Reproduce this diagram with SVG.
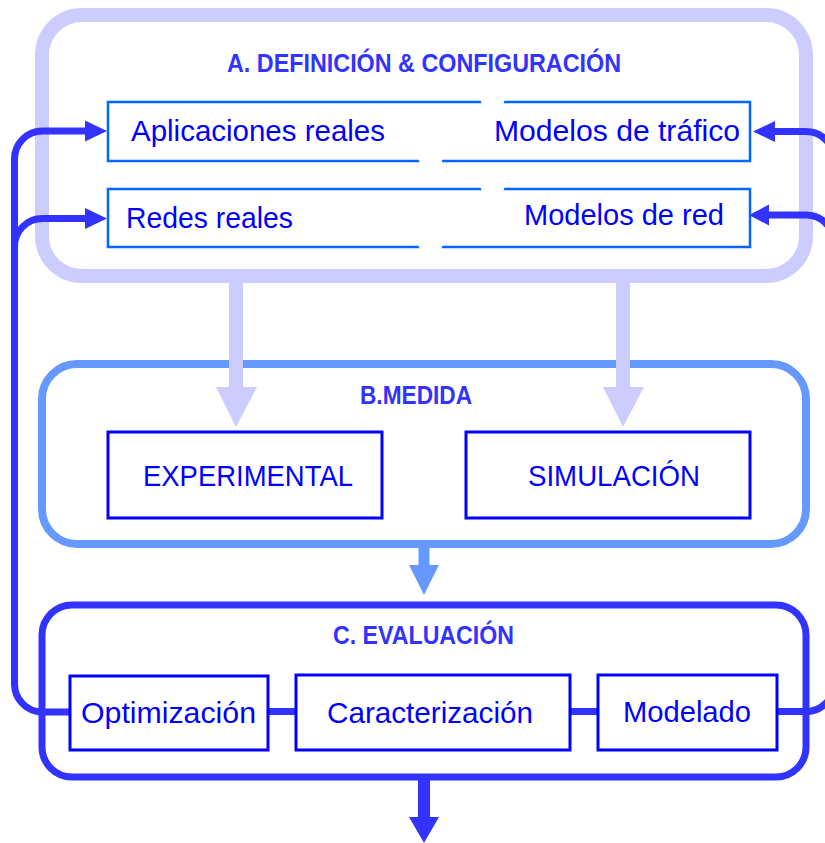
<svg xmlns="http://www.w3.org/2000/svg" width="825" height="843" viewBox="0 0 825 843">
<defs>
<style>
.lav{fill:none;stroke:#CCCCFF;stroke-width:14}
.lavf{fill:#CCCCFF}
.bstroke{fill:none;stroke:#6699FF;stroke-width:8}
.bf{fill:#6699FF}
.cstroke{fill:none;stroke:#3333FF;stroke-width:7}
.cf{fill:#3333FF}
.boxA{fill:#FFFFFF;stroke:#0066FF;stroke-width:2.5}
.box{fill:#FFFFFF;stroke:#0000FF;stroke-width:3}
.loop{fill:none;stroke:#3333FF;stroke-width:7}
.head{font-family:"Liberation Sans",Arial,sans-serif;font-weight:bold;font-size:25px;fill:#3333FF}
.lbl{font-family:"Liberation Sans",Arial,sans-serif;font-size:30px;fill:#0000FF}
</style>
</defs>
<rect width="825" height="843" fill="#FFFFFF"/>

<!-- Group containers -->
<g id="groupA">
<rect class="lav" x="42" y="15" width="764" height="261" rx="40" ry="40"/>
<text class="head" x="227" y="72" textLength="394" lengthAdjust="spacingAndGlyphs">A. DEFINICIÓN &amp; CONFIGURACIÓN</text>
</g>
<g id="groupB">
<rect class="bstroke" x="42" y="364" width="764" height="180" rx="35" ry="35"/>
<text class="head" x="360" y="404" textLength="112" lengthAdjust="spacingAndGlyphs">B.MEDIDA</text>
</g>
<g id="groupC">
<rect class="cstroke" x="42" y="605" width="764" height="172" rx="30" ry="30"/>
<text class="head" x="333" y="644" textLength="181" lengthAdjust="spacingAndGlyphs">C. EVALUACIÓN</text>
</g>

<!-- Connectors -->
<g id="connectors">
<!-- A to B arrows -->
<rect class="lavf" x="229" y="276" width="14" height="112"/>
<polygon class="lavf" points="216,387 257,387 236,427"/>
<rect class="lavf" x="616" y="276" width="14" height="112"/>
<polygon class="lavf" points="603,387 644,387 623,427"/>
<!-- B to C arrow -->
<rect class="bf" x="418.5" y="546" width="11" height="20"/>
<polygon class="bf" points="409,565 439,565 424,595"/>
<!-- C output arrow -->
<rect class="cf" x="418" y="779" width="12" height="39"/>
<polygon class="cf" points="409,817 439,817 424,843"/>
<!-- left feedback loop -->
<path class="loop" d="M70,712 H42 A28,28 0 0 1 14.5,684 V159 A28,28 0 0 1 42.5,131 H88"/>
<path class="loop" d="M14.5,247 A28,28 0 0 1 42.5,218.5 H88"/>
<polygon class="cf" points="107,131 85,120.5 85,141.5"/>
<polygon class="cf" points="107,218.5 85,208 85,229"/>
<!-- right feedback loop -->
<path class="loop" d="M777,711.5 H806 A28,28 0 0 0 834,683.5 V159.5 A28,28 0 0 0 806,131.5 H770"/>
<path class="loop" d="M834,243 A28,28 0 0 0 806,215 H765"/>
<polygon class="cf" points="753,131.5 775,121 775,142"/>
<polygon class="cf" points="749,215 769,204.5 769,225.5"/>
<!-- links inside C -->
<line class="loop" x1="268" y1="711.5" x2="296" y2="711.5"/>
<line class="loop" x1="570" y1="711.5" x2="598" y2="711.5"/>
</g>

<!-- Nodes in A -->
<g id="rowTrafico">
<rect class="boxA" x="108" y="102" width="642" height="59"/>
<polygon points="480,99 505,99 503,105 482,105" fill="#FFFFFF"/>
<polygon points="418,158 443,158 441,164 420,164" fill="#FFFFFF"/>
</g>
<g id="aplicaciones">
<text class="lbl" x="131" y="141" textLength="254" lengthAdjust="spacingAndGlyphs">Aplicaciones reales</text>
</g>
<g id="modelosTrafico">
<text class="lbl" x="494" y="141" textLength="246" lengthAdjust="spacingAndGlyphs">Modelos de tráfico</text>
</g>
<g id="rowRed">
<rect class="boxA" x="108" y="189" width="642" height="58"/>
<polygon points="480,186 505,186 503,192 482,192" fill="#FFFFFF"/>
<polygon points="418,244 443,244 441,250 420,250" fill="#FFFFFF"/>
</g>
<g id="redesReales">
<text class="lbl" x="126" y="228" textLength="167" lengthAdjust="spacingAndGlyphs">Redes reales</text>
</g>
<g id="modelosRed">
<text class="lbl" x="524" y="225" textLength="200" lengthAdjust="spacingAndGlyphs">Modelos de red</text>
</g>

<!-- Nodes in B -->
<g id="experimental">
<rect class="box" x="108" y="432" width="274" height="86"/>
<text class="lbl" x="143" y="486" textLength="210" lengthAdjust="spacingAndGlyphs">EXPERIMENTAL</text>
</g>
<g id="simulacion">
<rect class="box" x="466" y="432" width="284" height="86"/>
<text class="lbl" x="528" y="486" textLength="172" lengthAdjust="spacingAndGlyphs">SIMULACIÓN</text>
</g>

<!-- Nodes in C -->
<g id="optimizacion">
<rect class="box" x="70" y="676" width="198" height="74"/>
<text class="lbl" x="81" y="723" textLength="175" lengthAdjust="spacingAndGlyphs">Optimización</text>
</g>
<g id="caracterizacion">
<rect class="box" x="296" y="675" width="274" height="75"/>
<text class="lbl" x="327" y="723" textLength="206" lengthAdjust="spacingAndGlyphs">Caracterización</text>
</g>
<g id="modelado">
<rect class="box" x="598" y="675" width="179" height="75"/>
<text class="lbl" x="623" y="722" textLength="128" lengthAdjust="spacingAndGlyphs">Modelado</text>
</g>
</svg>
